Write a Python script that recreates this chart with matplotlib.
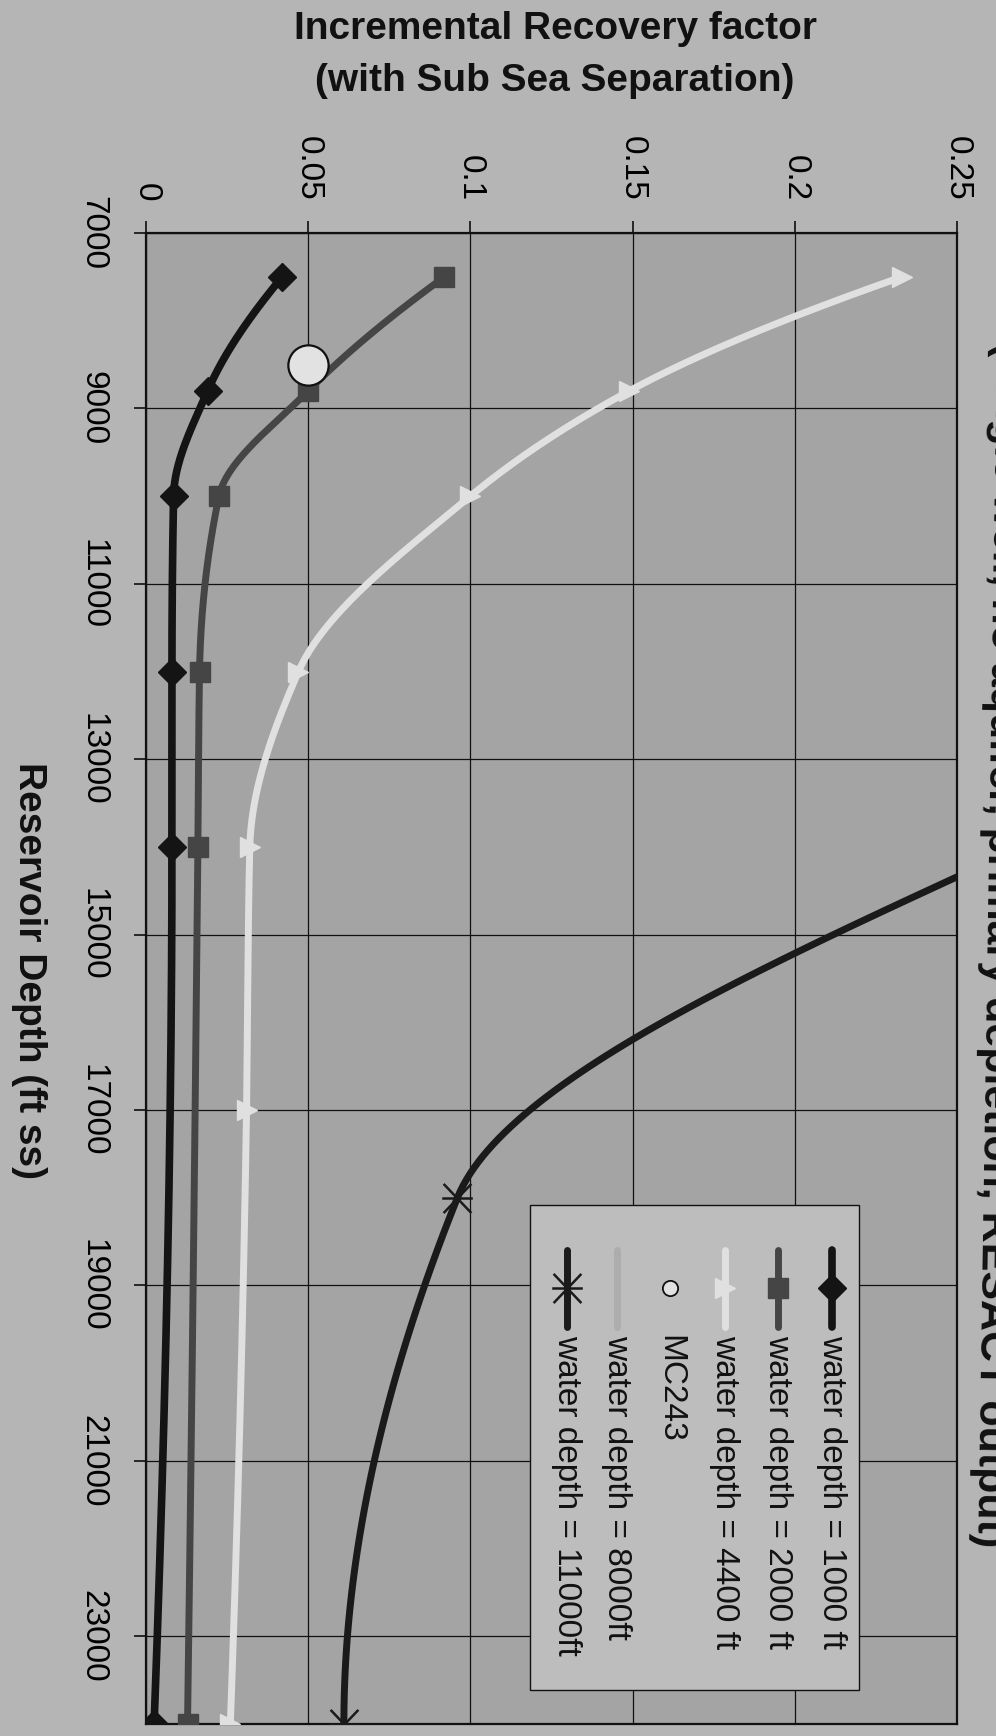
import numpy as np
import matplotlib
matplotlib.use("Agg")
import matplotlib.pyplot as plt
from matplotlib.path import Path
from matplotlib.patches import Rectangle

plt.rcParams['font.family'] = ['Liberation Sans', 'DejaVu Sans']

# ---------------- data ----------------
depth_ticks = [7000, 9000, 11000, 13000, 15000, 17000, 19000, 21000, 23000]
depth_tick_labels = ["7000", "9000", "11000", "13000", "15000", "17000", "19000", "21000", "23000"]
rf_ticks = [0, 0.05, 0.1, 0.15, 0.2, 0.25]
rf_tick_labels = ["0", "0.05", "0.1", "0.15", "0.2", "0.25"]

wd1000_depth = [7500, 8800, 10000, 12000, 14000, 24000]
wd1000_rf = [0.042, 0.019, 0.0085, 0.008, 0.008, 0.0025]

wd2000_depth = [7500, 8800, 10000, 12000, 14000, 24000]
wd2000_rf = [0.092, 0.050, 0.0225, 0.0165, 0.016, 0.0128]

wd4400_depth = [7500, 8800, 10000, 12000, 14000, 17000, 24000]
wd4400_rf = [0.233, 0.149, 0.100, 0.047, 0.032, 0.031, 0.026]

mc243_depth = [8500]
mc243_rf = [0.050]

wd8000_depth = []
wd8000_rf = []

wd11000_depth = [14000, 18000, 24000]
wd11000_rf = [0.27, 0.096, 0.061]

series_labels = ["water depth = 1000 ft", "water depth = 2000 ft", "water depth = 4400 ft",
                 "MC243", "water depth = 8000ft", "water depth = 11000ft"]

x_title = "Incremental Recovery factor\n(with Sub Sea Separation)"
y_title = "Reservoir Depth (ft ss)"
chart_title = "(single well, no aquifer, primary depletion, RESACT output)"

# ---------------- helpers ----------------
def smooth(x, y, n=60):
    """Monotone cubic Hermite rendering of a smoothed line through the data points."""
    x = np.asarray(x, float)
    y = np.asarray(y, float)
    if len(x) < 2:
        return x, y
    h = np.diff(x)
    d = np.diff(y) / h
    m = np.zeros_like(y)
    if len(x) == 2:
        m[:] = d[0]
    else:
        for k in range(1, len(x) - 1):
            if d[k - 1] * d[k] <= 0:
                m[k] = 0.0
            else:
                w1 = 2 * h[k] + h[k - 1]
                w2 = h[k] + 2 * h[k - 1]
                m[k] = (w1 + w2) / (w1 / d[k - 1] + w2 / d[k])

        def end(h0, h1, d0, d1):
            mm = ((2 * h0 + h1) * d0 - h0 * d1) / (h0 + h1)
            if np.sign(mm) != np.sign(d0):
                mm = 0.0
            elif np.sign(d0) != np.sign(d1) and abs(mm) > abs(3 * d0):
                mm = 3 * d0
            return mm
        m[0] = end(h[0], h[1], d[0], d[1])
        m[-1] = end(h[-1], h[-2], d[-1], d[-2])
    xs, ys = [], []
    for k in range(len(x) - 1):
        t = np.linspace(0, 1, n)
        h00 = 2 * t**3 - 3 * t**2 + 1
        h10 = t**3 - 2 * t**2 + t
        h01 = -2 * t**3 + 3 * t**2
        h11 = t**3 - t**2
        xs.append(x[k] + t * h[k])
        ys.append(h00 * y[k] + h10 * h[k] * m[k] + h01 * y[k + 1] + h11 * h[k] * m[k + 1])
    return np.concatenate(xs), np.concatenate(ys)

asterisk = Path([(-1, -1.05), (1, 1.05), (-1, 1.05), (1, -1.05), (-1.1, 0), (1.1, 0)],
                [Path.MOVETO, Path.LINETO, Path.MOVETO, Path.LINETO, Path.MOVETO, Path.LINETO])

FIG_BG = "#b5b5b5"
AX_BG = "#a4a4a4"
LEG_BG = "#bdbdbd"

styles = [
    dict(color="#141414", lw=5.5, marker="D", ms=14, mfc="#141414", mec="#141414", mew=1),
    dict(color="#454545", lw=5.0, marker="s", ms=14, mfc="#454545", mec="#454545", mew=1),
    dict(color="#e0e0e0", lw=5.0, marker=">", ms=15, mfc="#e0e0e0", mec="#e0e0e0", mew=1),
    dict(color=None, lw=0, marker="o", ms=29, mfc="#e2e2e2", mec="#111111", mew=1.6),
    dict(color="#adadad", lw=5.0, marker=None, ms=0, mfc="none", mec="none", mew=0),
    dict(color="#1a1a1a", lw=5.0, marker=asterisk, ms=22, mfc="none", mec="#1a1a1a", mew=1.8),
]
data = [(wd1000_depth, wd1000_rf), (wd2000_depth, wd2000_rf), (wd4400_depth, wd4400_rf),
        (mc243_depth, mc243_rf), (wd8000_depth, wd8000_rf), (wd11000_depth, wd11000_rf)]

# ---------------- figure ----------------
W, H = 996, 1736
fig = plt.figure(figsize=(W / 100, H / 100), dpi=100, facecolor=FIG_BG)
ax = fig.add_axes([146 / W, 1 - 1724 / H, 811 / W, 1491 / H])
ax.set_facecolor(AX_BG)

ax.set_xlim(0, 0.25)
ax.set_ylim(24000, 7000)
ax.xaxis.tick_top()
ax.set_xticks(rf_ticks)
ax.set_xticklabels(rf_tick_labels, rotation=270, ha="center", va="bottom")
ax.set_yticks(depth_ticks)
ax.set_yticklabels(depth_tick_labels, rotation=270, ha="right", va="center")
ax.tick_params(axis="both", direction="out", length=9, width=1.1, labelsize=24, colors="black")
ax.tick_params(axis="x", pad=14)
ax.tick_params(axis="y", pad=18)
ax.grid(True, color="#111111", lw=0.9)
ax.set_axisbelow(True)
for sp in ax.spines.values():
    sp.set_color("#111111")
    sp.set_linewidth(1.6)

for i, ((dep, rf), st) in enumerate(zip(data, styles)):
    if len(dep) == 0:
        continue
    if st["lw"] > 0:
        sx, sy = smooth(dep, rf)
        ax.plot(sy, sx, color=st["color"], lw=st["lw"], solid_capstyle="round", zorder=3 + i)
    if st["marker"] is not None:
        ax.plot(rf, dep, linestyle="none", marker=st["marker"], ms=st["ms"], mfc=st["mfc"],
                mec=st["mec"], mew=st["mew"], zorder=3.5 + i, clip_on=True)

# ---------------- overlay: legend and texts ----------------
lax = fig.add_axes([0, 0, 1, 1], zorder=10)
lax.set_xlim(0, W)
lax.set_ylim(H, 0)
lax.axis("off")

lax.add_patch(Rectangle((530, 1205), 329, 485, facecolor=LEG_BG, edgecolor="#111111", lw=1.0))
entry_x = [832, 778, 725, 670, 617, 567]
for xpos, lab, st in zip(entry_x, series_labels, styles):
    if st["lw"] > 0:
        lax.plot([xpos, xpos], [1250, 1327], color=st["color"], lw=st["lw"], solid_capstyle="round")
    if st["marker"] is not None:
        ms = st["ms"] if st["marker"] != "o" else 11
        mew = st["mew"] if st["marker"] != "o" else 1.3
        lax.plot([xpos], [1288], linestyle="none", marker=st["marker"], ms=ms, mfc=st["mfc"],
                 mec=st["mec"], mew=mew)
    lax.text(xpos, 1335, lab, rotation=270, rotation_mode="anchor", ha="left", va="center",
             fontsize=24, color="#111111")

fig.text(555 / W, 1 - 55 / H, x_title, ha="center", va="center", fontsize=28,
         fontweight="bold", linespacing=1.6, color="#111111")
fig.text(29 / W, 1 - 971 / H, y_title, rotation=270, ha="center", va="center", fontsize=28,
         fontweight="bold", color="#111111")
# chart title: mostly beyond the right edge, slightly tilted as in the scanned original
fig.text(977 / W, 1 - 1547 / H, chart_title, rotation=269.1, rotation_mode="anchor", ha="right",
         va="baseline", fontsize=31, fontweight="bold", color="#111111")

fig.savefig("out.png", dpi=100, facecolor=FIG_BG)
